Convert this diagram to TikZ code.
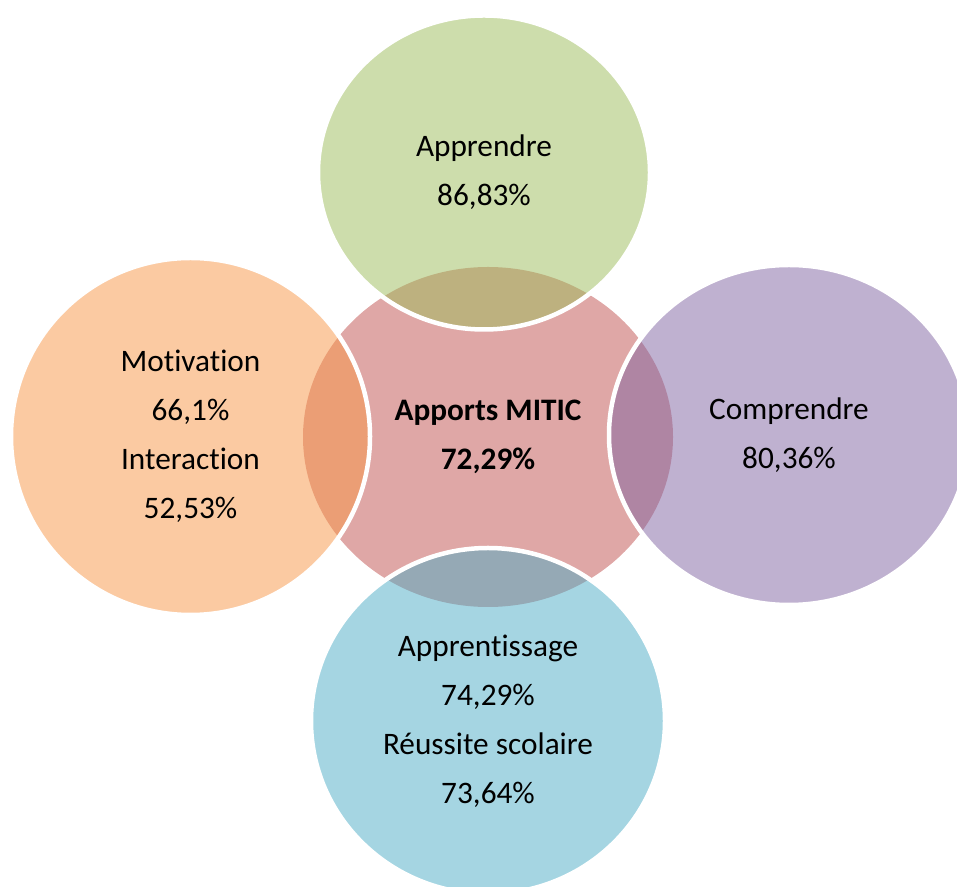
\documentclass[tikz,border=0pt]{standalone}
\usepackage{fontspec}
\setmainfont[RawFeature={-liga}]{Carlito}
\usepackage{tikz}
\usetikzlibrary{shapes.geometric}

\definecolor{redC}{HTML}{C0504D}
\definecolor{greenC}{HTML}{9BBB59}
\definecolor{orangeC}{HTML}{F79646}
\definecolor{purpleC}{HTML}{8064A2}
\definecolor{blueC}{HTML}{4BACC6}

\begin{document}
\begin{tikzpicture}[
    x=0.2mm, y=0.2mm,
    every node/.style={font=\fontsize{17.8}{27.9}\selectfont},
    hubcircle/.style={ellipse, draw=none, fill opacity=0.5, text opacity=1, inner sep=0pt, align=center},
    venncircle/.style={ellipse, draw=white, line width=0.9mm, fill opacity=0.5, text opacity=1, inner sep=0pt, align=center}
]
\useasboundingbox (0,0) rectangle (957,886);

% Centre
\node[hubcircle, fill=redC, minimum width=74mm, minimum height=68mm] (mitic) at (488,449) {\bfseries Apports MITIC\\\bfseries 72,29\%};

% Surrounding circles
\node[venncircle, fill=greenC, minimum width=66.4mm, minimum height=62.8mm] (apprendre) at (484,713.5) {Apprendre\\86,83\%};
\node[venncircle, fill=orangeC, minimum width=71.8mm, minimum height=71.4mm] (motivation) at (190.5,449.5) {Motivation\\66,1\%\\Interaction\\52,53\%};
\node[venncircle, fill=purpleC, minimum width=72mm, minimum height=68mm] (comprendre) at (789,451) {Comprendre\\80,36\%};
\node[venncircle, fill=blueC, minimum width=70.8mm, minimum height=69.2mm] (apprentissage) at (488,165) {Apprentissage\\74,29\%\\Réussite scolaire\\73,64\%};
\end{tikzpicture}
\end{document}
